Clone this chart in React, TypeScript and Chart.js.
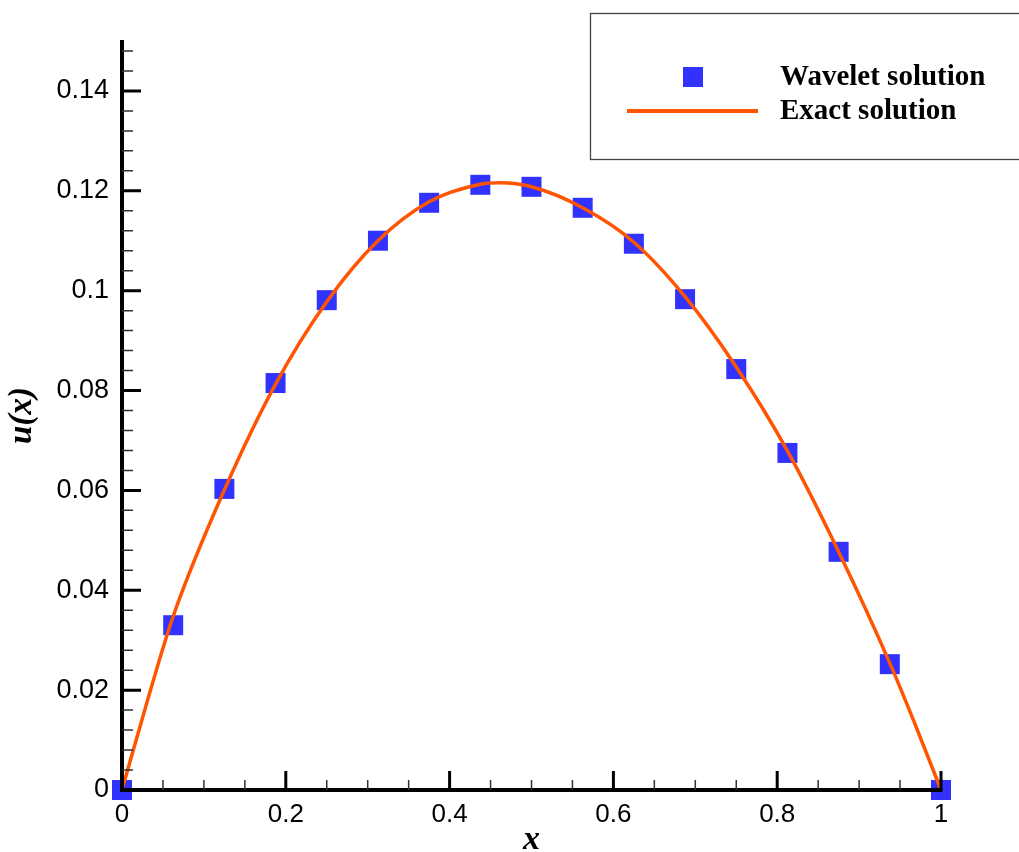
import React, { useEffect, useRef } from 'react';
import { Chart, registerables } from 'chart.js';

Chart.register(...registerables);

// ---- Data ----
const waveletX = [0, 0.0625, 0.125, 0.1875, 0.25, 0.3125, 0.375, 0.4375, 0.5, 0.5625, 0.625, 0.6875, 0.75, 0.8125, 0.875, 0.9375, 1];
const waveletY = [0, 0.033, 0.0603, 0.0815, 0.0981, 0.110, 0.1176, 0.1212, 0.1208, 0.1166, 0.1094, 0.0983, 0.0843, 0.0675, 0.0477, 0.0252, 0];

const exactX = [0, 0.03125, 0.0625, 0.125, 0.1875, 0.25, 0.3125, 0.375, 0.4375, 0.4625, 0.5, 0.5625, 0.625, 0.6875, 0.75, 0.8125, 0.875, 0.9375, 0.96875, 1];
const exactY = [0, 0.018, 0.0348, 0.0601, 0.0813, 0.0978, 0.110, 0.1178, 0.1213, 0.1216, 0.1208, 0.1166, 0.1097, 0.0988, 0.0847, 0.0679, 0.0477, 0.0254, 0.013, 0];

const seriesLabels = ['Wavelet solution', 'Exact solution'];
const xTitle = 'x';
const yTitle = 'u(x)';

const xMajorTicks = [0, 0.2, 0.4, 0.6, 0.8, 1];
const xMinorTicks = [0.05, 0.1, 0.15, 0.25, 0.3, 0.35, 0.45, 0.5, 0.55, 0.65, 0.7, 0.75, 0.85, 0.9, 0.95];
const yMajorTicks = [0, 0.02, 0.04, 0.06, 0.08, 0.1, 0.12, 0.14];
const yMinorStep = 0.004;
const yMax = 0.15;

const BLUE = '#3232FF';
const ORANGE = '#FF5500';
const SANS = "'Liberation Sans', Arial, sans-serif";
const SERIF = "'Liberation Serif', 'Times New Roman', serif";

const fmt = (v: number) => String(Math.round(v * 1000) / 1000);

const axesPlugin = {
  id: 'customAxes',
  afterDatasetsDraw(chart: any) {
    const { ctx, chartArea, scales } = chart;
    const xs = scales.x;
    const ys = scales.y;
    const x0 = chartArea.left;
    const y0 = chartArea.bottom;
    ctx.save();
    ctx.strokeStyle = '#000';
    ctx.lineCap = 'butt';
    // axis lines
    ctx.lineWidth = 4;
    ctx.beginPath();
    ctx.moveTo(x0, chartArea.top - 1);
    ctx.lineTo(x0, y0 + 2);
    ctx.moveTo(x0 - 2, y0);
    ctx.lineTo(xs.getPixelForValue(1) + 1.5, y0);
    ctx.stroke();
    // major ticks
    ctx.lineWidth = 3;
    ctx.beginPath();
    for (const v of yMajorTicks) {
      const p = ys.getPixelForValue(v);
      ctx.moveTo(x0, p);
      ctx.lineTo(x0 + 19, p);
    }
    for (const v of xMajorTicks) {
      const p = xs.getPixelForValue(v);
      ctx.moveTo(p, y0);
      ctx.lineTo(p, y0 - 19);
    }
    ctx.stroke();
    // minor ticks
    ctx.lineWidth = 1.5;
    ctx.strokeStyle = '#333';
    ctx.beginPath();
    for (let i = 1; i * yMinorStep < yMax; i++) {
      if (i % 5 === 0) continue;
      const p = ys.getPixelForValue(i * yMinorStep);
      ctx.moveTo(x0, p);
      ctx.lineTo(x0 + 11, p);
    }
    for (const v of xMinorTicks) {
      const p = xs.getPixelForValue(v);
      ctx.moveTo(p, y0);
      ctx.lineTo(p, y0 - 10);
    }
    ctx.stroke();
    ctx.restore();
  },
  afterDraw(chart: any) {
    const { ctx } = chart;
    ctx.save();
    ctx.fillStyle = '#fff';
    ctx.fillRect(590.5, 13.5, 500, 146);
    ctx.strokeStyle = '#444';
    ctx.lineWidth = 1.3;
    ctx.strokeRect(590.5, 13.5, 500, 146);
    ctx.fillStyle = BLUE;
    ctx.fillRect(683, 67, 20, 20);
    ctx.strokeStyle = ORANGE;
    ctx.lineWidth = 4;
    ctx.beginPath();
    ctx.moveTo(627, 111);
    ctx.lineTo(758, 111);
    ctx.stroke();
    ctx.fillStyle = '#000';
    ctx.font = `bold 29px ${SERIF}`;
    ctx.textBaseline = 'alphabetic';
    ctx.textAlign = 'left';
    ctx.fillText(seriesLabels[0], 780, 85);
    ctx.fillText(seriesLabels[1], 780, 119);
    ctx.restore();
  },
};

export default function App() {
  const ref = useRef<HTMLCanvasElement>(null);
  useEffect(() => {
    if (!ref.current) return;
    const chart = new Chart(ref.current, {
      type: 'scatter',
      data: {
        datasets: [
          {
            type: 'line',
            label: seriesLabels[1],
            data: exactX.map((x, i) => ({ x, y: exactY[i] })),
            borderColor: ORANGE,
            backgroundColor: ORANGE,
            borderWidth: 3.5,
            pointRadius: 0,
            cubicInterpolationMode: 'monotone',
            fill: false,
            order: 0,
          } as any,
          {
            type: 'scatter',
            label: seriesLabels[0],
            data: waveletX.map((x, i) => ({ x, y: waveletY[i] })),
            backgroundColor: BLUE,
            borderWidth: 0,
            pointStyle: 'rect',
            pointRadius: 14.14,
            pointHoverRadius: 14.14,
            clip: false,
            order: 1,
          } as any,
        ],
      },
      options: {
        animation: false,
        responsive: false,
        devicePixelRatio: 1,
        events: [],
        layout: { padding: { left: 0, right: 78, top: 41, bottom: 0 } },
        plugins: { legend: { display: false }, tooltip: { enabled: false } },
        scales: {
          x: {
            type: 'linear',
            min: 0,
            max: 1,
            afterBuildTicks: (s: any) => { s.ticks = xMajorTicks.map((v) => ({ value: v })); },
            afterFit: (s: any) => { s.height = 62; },
            grid: { display: false, drawTicks: false },
            border: { display: false },
            ticks: {
              autoSkip: false,
              maxRotation: 0,
              padding: 9,
              color: '#000',
              font: { family: SANS, size: 26 },
              callback: (v: any) => fmt(Number(v)),
            },
            title: {
              display: true,
              text: xTitle,
              color: '#000',
              font: { family: SERIF, size: 34, style: 'italic', weight: 'bold', lineHeight: 0.7 },
              padding: { top: 0, bottom: 0 },
            },
          },
          y: {
            type: 'linear',
            min: 0,
            max: yMax,
            afterBuildTicks: (s: any) => { s.ticks = yMajorTicks.map((v) => ({ value: v })); },
            afterFit: (s: any) => { s.width = 122; },
            grid: { display: false, drawTicks: false },
            border: { display: false },
            ticks: {
              autoSkip: false,
              padding: 13,
              color: '#000',
              font: { family: SANS, size: 27 },
              callback: (v: any) => fmt(Number(v)),
            },
            title: {
              display: true,
              text: yTitle,
              color: '#000',
              font: { family: SERIF, size: 33, style: 'italic', weight: 'bold' },
              padding: { top: 3, bottom: 0 },
            },
          },
        },
      } as any,
      plugins: [axesPlugin],
    });
    return () => chart.destroy();
  }, []);
  return (
    <div style={{ position: 'absolute', left: 0, top: 0, width: 1019, height: 852, background: '#fff' }}>
      <canvas ref={ref} width={1019} height={852} style={{ display: 'block' }} />
    </div>
  );
}
